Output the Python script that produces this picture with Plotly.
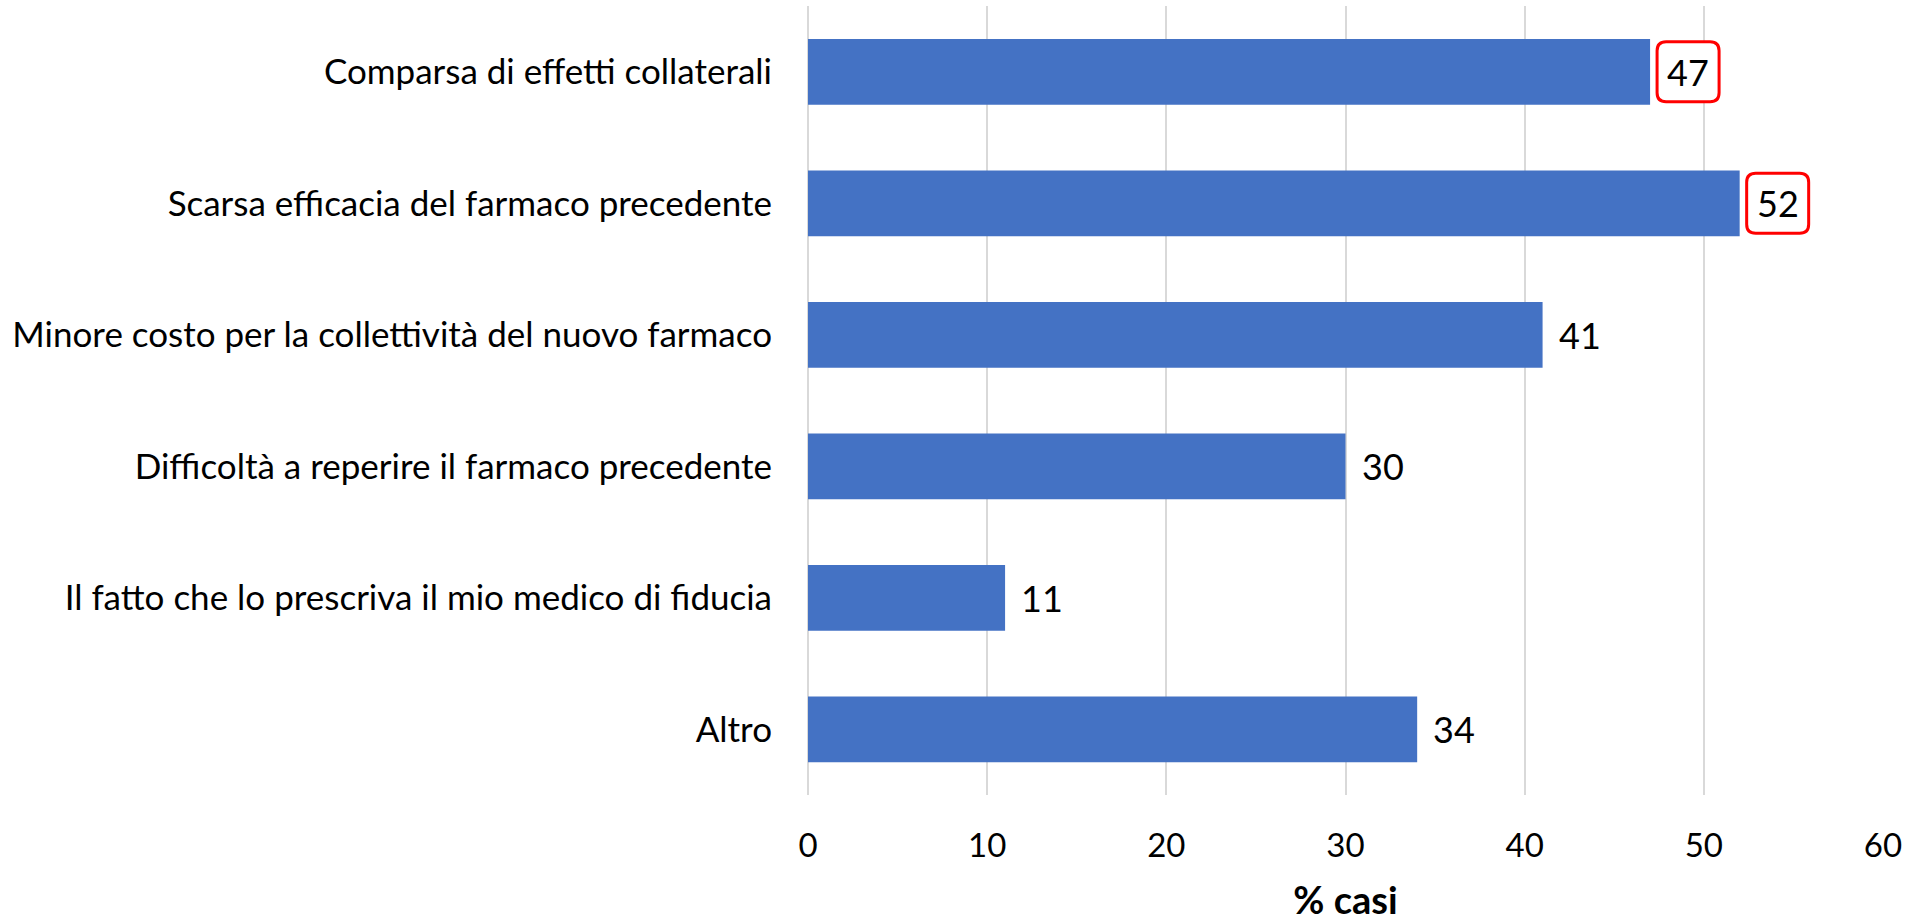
import plotly.graph_objects as go

categories = [
    "Comparsa di effetti collaterali",
    "Scarsa efficacia del farmaco precedente",
    "Minore costo per la collettività del nuovo farmaco",
    "Difficoltà a reperire il farmaco precedente",
    "Il fatto che lo prescriva il mio medico di fiducia",
    "Altro",
]
values = [47, 52, 41, 30, 11, 34]
highlighted = [True, True, False, False, False, False]
x_ticks = [0, 10, 20, 30, 40, 50, 60]
x_title = "% casi"

FONT = "Lato, 'Open Sans', sans-serif"
BAR_COLOR = "#4472C4"


def rounded_box_path(x0, x1, y0, y1, r):
    return (
        f"M {x0 + r},{y0} L {x1 - r},{y0} Q {x1},{y0} {x1},{y0 + r} "
        f"L {x1},{y1 - r} Q {x1},{y1} {x1 - r},{y1} "
        f"L {x0 + r},{y1} Q {x0},{y1} {x0},{y1 - r} "
        f"L {x0},{y0 + r} Q {x0},{y0} {x0 + r},{y0} Z"
    )


fig = go.Figure(
    go.Bar(
        x=values,
        y=categories,
        orientation="h",
        marker=dict(color=BAR_COLOR, line=dict(width=0)),
        hoverinfo="x+y",
    )
)

for cat, val, hl in zip(categories, values, highlighted):
    if hl:
        fig.add_shape(
            type="path",
            xref="x",
            yref="y",
            xsizemode="pixel",
            ysizemode="pixel",
            xanchor=val,
            yanchor=cat,
            path=rounded_box_path(7, 69, -30, 30, 9),
            line=dict(color="#FF0000", width=3),
            fillcolor="white",
            layer="above",
        )
    fig.add_annotation(
        x=val,
        y=cat,
        xref="x",
        yref="y",
        text=str(val),
        showarrow=False,
        xanchor="center" if hl else "left",
        yanchor="middle",
        xshift=38 if hl else 14,
        font=dict(family=FONT, size=36, color="black"),
    )

fig.update_layout(
    width=1914,
    height=923,
    margin=dict(l=808, r=31, t=6, b=128),
    paper_bgcolor="white",
    plot_bgcolor="white",
    bargap=0.5,
    showlegend=False,
    font=dict(family=FONT, color="black"),
    xaxis=dict(
        range=[0, 60],
        tickvals=x_ticks,
        ticktext=[str(t) for t in x_ticks],
        showgrid=True,
        gridcolor="#D9D9D9",
        gridwidth=1.5,
        zeroline=True,
        zerolinecolor="#D9D9D9",
        zerolinewidth=1.5,
        showline=False,
        ticks="",
        ticklabelstandoff=28,
        tickfont=dict(family=FONT, size=33, color="black"),
        title=dict(
            text="<b>" + x_title + "</b>",
            font=dict(family=FONT, size=38, color="black"),
            standoff=24,
        ),
    ),
    yaxis=dict(
        autorange="reversed",
        showgrid=False,
        zeroline=False,
        showline=False,
        ticks="",
        ticklabelstandoff=35,
        tickfont=dict(family=FONT, size=35, color="black"),
    ),
)

fig.write_html(
    "out.html",
    config={"displayModeBar": False},
    post_script="document.body.style.margin='0';document.body.style.overflow='hidden';",
)
